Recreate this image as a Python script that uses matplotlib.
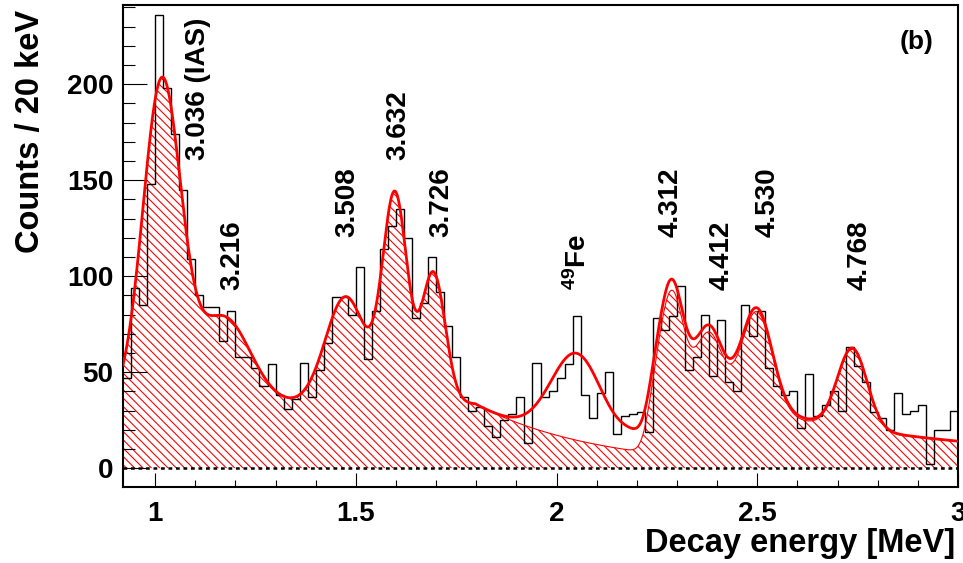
import numpy as np
import matplotlib
matplotlib.use("Agg")
import matplotlib.pyplot as plt
from matplotlib.ticker import MultipleLocator, FuncFormatter

# measured spectrum, 20 keV bins starting at 0.92 MeV
bin_lo = 0.92
bin_w = 0.02
counts = [47, 94, 85, 148, 236, 198, 174, 145, 109, 90,
          84, 84, 66, 82, 58, 58, 52, 43, 54, 38,
          31, 36, 55, 37, 51, 65, 89, 89, 80, 105,
          57, 82, 114, 126, 135, 120, 78, 86, 110, 92,
          74, 58, 37, 30, 32, 22, 16, 25, 28, 37,
          13, 55, 37, 40, 47, 54, 79, 38, 26, 39,
          50, 18, 27, 28, 29, 19, 78, 72, 79, 95,
          51, 58, 80, 48, 77, 45, 40, 85, 69, 82,
          52, 43, 38, 40, 21, 49, 27, 33, 40, 30,
          63, 53, 45, 29, 26, 20, 39, 28, 30, 33,
          2, 20, 20, 30]

# fitted lines (Gaussians): label, centroid [MeV], sigma [MeV], height [counts]
line_labels = ["3.036 (IAS)", "3.216", "3.508", "3.632", "3.726",
               r"$^{49}$Fe", "4.312", "4.412", "4.530", "4.768"]
line_centers = [1.0167, 1.1703, 1.4747, 1.5975, 1.6931,
                2.0501, 2.2873, 2.3802, 2.4987, 2.7368]
line_sigmas = [0.0471, 0.0663, 0.0502, 0.0307, 0.0295,
               0.0639, 0.0280, 0.0330, 0.0385, 0.0367]
line_heights = [167.1, 45.1, 55.9, 107.7, 68.1,
                 45.3, 51.1, 35.1, 52.3, 41.6]
fe_line = 5

# continuum below the lines
low_bg = [33.44, 1.7975, 0.3033]           # height, knee, decay length
high_bg = [37.00, 2.2302, 0.0173, 0.7488]  # height, onset, onset width, decay length
fe_tail = [10.13, 2.1704, 0.205]           # height, onset, decay length

# where the line labels sit (x in MeV, bottom of text in counts)
label_x = [1.106, 1.192, 1.478, 1.605, 1.713, 2.054, 2.284, 2.412, 2.527, 2.756]
label_y = [160.5, 93, 120.5, 160.5, 120.5, 93, 120.5, 93, 120.5, 93]


def erf(z):
    sgn = np.sign(z)
    z = np.abs(z)
    t = 1.0 / (1.0 + 0.3275911 * z)
    poly = ((((1.061405429 * t - 1.453152027) * t + 1.421413741) * t
             - 0.284496736) * t + 0.254829592) * t
    return sgn * (1 - poly * np.exp(-z * z))


def step(x, x0, w):
    return 0.5 * (1 + erf((x - x0) / (w * np.sqrt(2))))


def gauss(x, i):
    return line_heights[i] * np.exp(-0.5 * ((x - line_centers[i]) / line_sigmas[i]) ** 2)


x = np.linspace(bin_lo, 3.0, 2000)
cont = low_bg[0] * np.exp(-np.clip(x - low_bg[1], 0, None) / low_bg[2])
cont += high_bg[0] * step(x, high_bg[1], high_bg[2]) * np.exp(-np.clip(x - high_bg[1], -0.5, None) / high_bg[3])
others = cont + sum(gauss(x, i) for i in range(len(line_centers)) if i != fe_line)
fe = gauss(x, fe_line) + fe_tail[0] * step(x, fe_tail[1], 0.03) * np.exp(-np.clip(x - fe_tail[1], -0.5, None) / fe_tail[2])
total = others + fe

plt.rcParams['font.family'] = ['Liberation Sans', 'DejaVu Sans']
plt.rcParams['font.weight'] = 'bold'
plt.rcParams['mathtext.fontset'] = 'custom'
plt.rcParams['mathtext.rm'] = 'Liberation Sans:bold'
plt.rcParams['mathtext.it'] = 'Liberation Sans:bold'
plt.rcParams['mathtext.bf'] = 'Liberation Sans:bold'
plt.rcParams['hatch.linewidth'] = 0.8
plt.rcParams['hatch.color'] = 'red'

fig = plt.figure(figsize=(9.63, 5.63), dpi=100)
ax = fig.add_axes([123 / 963, 76 / 563, 835 / 963, 482 / 563])

edges = bin_lo + bin_w * np.arange(len(counts) + 1)
ax.fill_between(x, 0, others, facecolor='none', edgecolor='red',
                hatch='\\\\\\\\', linewidth=0, zorder=1)
ax.stairs(counts, edges, color='black', lw=1, baseline=None, zorder=2)
ax.plot(x, others, color='red', lw=0.8, zorder=3)
ax.plot(x, total, color='red', lw=2, zorder=4)
ax.axhline(0, color='black', lw=1.8, ls=(0, (1.5, 1.5)), zorder=5)

for s, lx, ly in zip(line_labels, label_x, label_y):
    ax.text(lx, ly, s, rotation=90, ha='center', va='bottom',
            fontsize=20, fontweight='bold')
ax.text(2.898, 221.8, "(b)", ha='center', va='center', fontsize=19, fontweight='bold')

ax.set_xlim(bin_lo, 3.0)
ax.set_ylim(-9.8, 241.2)
ax.xaxis.set_major_locator(MultipleLocator(0.5))
ax.xaxis.set_minor_locator(MultipleLocator(0.1))
ax.yaxis.set_major_locator(MultipleLocator(50))
ax.yaxis.set_minor_locator(MultipleLocator(10))
fmt = FuncFormatter(lambda v, pos: "%g" % v)
ax.xaxis.set_major_formatter(fmt)
ax.yaxis.set_major_formatter(fmt)
ax.tick_params(axis='both', which='both', direction='in', width=0.8,
               top=False, right=False, labelsize=20)
ax.tick_params(axis='x', which='major', length=10, pad=10)
ax.tick_params(axis='x', which='minor', length=5)
ax.tick_params(axis='y', which='major', length=17, pad=7)
ax.tick_params(axis='y', which='minor', length=8.6)
for sp in ax.spines.values():
    sp.set_linewidth(1.5)

ax.set_ylabel("Counts / 20 keV", fontsize=23.5, fontweight='bold', loc='top')
ax.yaxis.set_label_coords(-0.0922, 0.9896)
ax.set_xlabel("Decay energy [MeV]", fontsize=23.5, fontweight='bold', loc='right')
ax.xaxis.set_label_coords(0.9964, -0.085)

fig.savefig("out.png", dpi=100)
